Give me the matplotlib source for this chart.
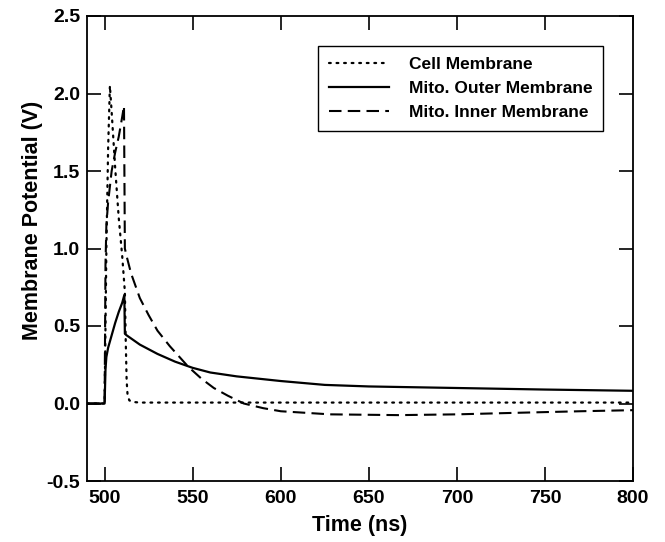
import matplotlib
matplotlib.use("Agg")
import matplotlib.pyplot as plt

plt.rcParams['font.family'] = ['Liberation Sans', 'DejaVu Sans']
plt.rcParams['font.weight'] = 'bold'

# Cell membrane (dotted)
t_cell = [490, 500, 500.5, 501, 502, 503, 504, 506, 508, 510, 511.5, 512, 512.5,
          513, 514, 516, 520, 600, 700, 800]
v_cell = [0, 0, 0.5, 1.0, 1.65, 2.05, 1.88, 1.52, 1.2, 0.95, 0.72, 0.4, 0.15,
          0.06, 0.02, 0.01, 0.006, 0.006, 0.006, 0.006]

# Mito. outer membrane (solid)
t_outer = [490, 500, 500.5, 501, 502, 504, 506, 508, 510, 511.2, 511.5, 512.5, 515,
           520, 525, 530, 540, 550, 560, 575, 600, 625, 650, 700, 750, 800]
v_outer = [0, 0, 0.22, 0.3, 0.36, 0.44, 0.52, 0.59, 0.65, 0.70, 0.45, 0.44, 0.42,
           0.38, 0.35, 0.32, 0.27, 0.23, 0.2, 0.175, 0.145, 0.12, 0.11, 0.1, 0.09, 0.082]

# Mito. inner membrane (dashed)
t_inner = [490, 500, 500.5, 501, 502, 504, 506, 508, 510, 511, 511.5, 512.5, 515,
           520, 525, 530, 537, 547.5, 555, 562, 570, 579, 590, 600, 628, 667,
           700, 734, 770, 800]
v_inner = [0, 0, 0.9, 1.15, 1.3, 1.5, 1.62, 1.72, 1.85, 1.92, 1.0, 0.95, 0.84,
           0.68, 0.57, 0.47, 0.37, 0.237, 0.16, 0.1, 0.05, 0.0, -0.03, -0.05, -0.07, -0.075,
           -0.07, -0.06, -0.05, -0.043]

x_ticks = [500, 550, 600, 650, 700, 750, 800]
y_ticks = [-0.5, 0.0, 0.5, 1.0, 1.5, 2.0, 2.5]

fig = plt.figure(figsize=(6.65, 5.42), dpi=100, facecolor='white')
ax = fig.add_axes([87 / 665, 1 - 481 / 542, (633 - 87) / 665, (481 - 16) / 542])

ax.plot(t_cell, v_cell, color='black', lw=1.6, linestyle=(0, (0.8, 2.6)),
        dash_capstyle='round', label='Cell Membrane')
ax.plot(t_outer, v_outer, color='black', lw=1.6, label='Mito. Outer Membrane')
ax.plot(t_inner, v_inner, color='black', lw=1.5, linestyle=(0, (6, 3)),
        label='Mito. Inner Membrane')

ax.set_xlim(490, 800)
ax.set_ylim(-0.5, 2.5)
ax.set_xticks(x_ticks)
ax.set_yticks(y_ticks)
ax.set_xticklabels([str(v) for v in x_ticks])
ax.set_yticklabels(['%.1f' % v for v in y_ticks])
ax.tick_params(direction='in', length=10, width=1.2, top=True, right=True,
               labelsize=14)
ax.tick_params(axis='x', pad=6.5)
ax.tick_params(axis='y', pad=5)
for s in ax.spines.values():
    s.set_linewidth(1.3)

ax.set_xlabel('Time (ns)', fontsize=15.5, fontweight='bold', labelpad=6)
ax.set_ylabel('Membrane Potential (V)', fontsize=15.5, fontweight='bold')
ax.yaxis.set_label_coords(-0.08, 0.56)

leg = ax.legend(loc='upper right', bbox_to_anchor=(0.945, 0.935), borderaxespad=0,
                fontsize=12.5, frameon=True, fancybox=False, edgecolor='black',
                framealpha=1, handlelength=3.5, labelspacing=0.5, borderpad=0.62,
                handletextpad=1.1)
leg.get_frame().set_linewidth(1.0)

fig.savefig('out.png', dpi=100)
